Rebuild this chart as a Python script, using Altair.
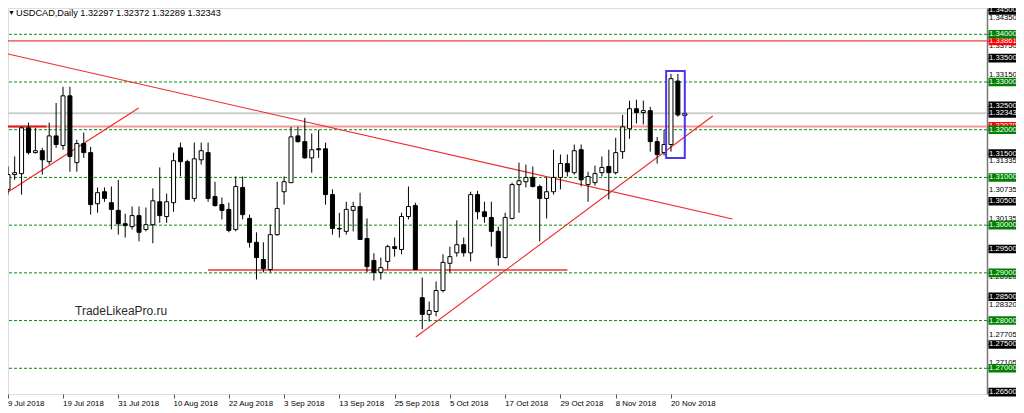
import altair as alt
import pandas as pd

# ---------------- data ----------------
OPEN = [1.3075, 1.3106, 1.3108, 1.3204, 1.3152, 1.3156, 1.3133, 1.3187, 1.3167, 1.3271,
        1.3131, 1.3171, 1.3152, 1.3045, 1.3070, 1.3047, 1.3031, 1.3003, 1.2997, 1.3020,
        1.2991, 1.3001, 1.3049, 1.3018, 1.3047, 1.3162, 1.3133, 1.3056, 1.3137, 1.3152,
        1.3060, 1.3043, 1.3033, 1.2991, 1.3079, 1.3014, 1.2964, 1.2928, 1.2907, 1.2980,
        1.3070, 1.3089, 1.3187, 1.3175, 1.3141, 1.3160, 1.3160, 1.3064, 1.2993, 1.2987,
        1.3031, 1.3039, 1.2972, 1.2926, 1.2901, 1.2924, 1.2955, 1.2949, 1.3018, 1.3041,
        1.2848, 1.2813, 1.2819, 1.2863, 1.2920, 1.2942, 1.2959, 1.2942, 1.3064, 1.3028,
        1.3016, 1.2987, 1.2932, 1.3014, 1.3085, 1.3091, 1.3100, 1.3081, 1.3056, 1.3070,
        1.3100, 1.3129, 1.3110, 1.3158, 1.3085, 1.3089, 1.3110, 1.3123, 1.3110, 1.3154,
        1.3202, 1.3244, 1.3236, 1.3240, 1.3175, 1.3152, 1.3169, 1.3302, 1.32297]
HIGH = [1.3123, 1.3144, 1.3206, 1.3215, 1.3204, 1.3162, 1.3215, 1.3256, 1.3290, 1.3290,
        1.3179, 1.3194, 1.3164, 1.3079, 1.3079, 1.3081, 1.3095, 1.3024, 1.3039, 1.3039,
        1.3037, 1.3077, 1.3121, 1.3066, 1.3152, 1.3173, 1.3137, 1.3173, 1.3173, 1.3173,
        1.3091, 1.3058, 1.3047, 1.3102, 1.3102, 1.3022, 1.2985, 1.2964, 1.3001, 1.3091,
        1.3102, 1.3206, 1.3206, 1.3225, 1.3192, 1.3200, 1.3173, 1.3075, 1.3026, 1.3049,
        1.3049, 1.3068, 1.3014, 1.2941, 1.2932, 1.2959, 1.2974, 1.3026, 1.3081, 1.3047,
        1.2890, 1.2840, 1.2882, 1.2939, 1.2955, 1.3010, 1.2974, 1.3070, 1.3072, 1.3049,
        1.3049, 1.2997, 1.3026, 1.3089, 1.3131, 1.3127, 1.3123, 1.3085, 1.3100, 1.3158,
        1.3148, 1.3148, 1.3169, 1.3169, 1.3112, 1.3125, 1.3144, 1.3158, 1.3183, 1.3231,
        1.3261, 1.3263, 1.3261, 1.3248, 1.3185, 1.3200, 1.3317, 1.3317, 1.32372]
LOW = [1.3064, 1.3095, 1.3064, 1.3148, 1.3150, 1.3106, 1.3127, 1.3162, 1.3158, 1.3112,
       1.3112, 1.3141, 1.3022, 1.3026, 1.3049, 1.2991, 1.2980, 1.2974, 1.2991, 1.2966,
       1.2987, 1.2962, 1.3005, 1.3005, 1.3028, 1.3102, 1.3054, 1.3049, 1.3127, 1.3049,
       1.3039, 1.3012, 1.2985, 1.2987, 1.3012, 1.2953, 1.2886, 1.2901, 1.2901, 1.2978,
       1.3043, 1.3089, 1.3173, 1.3139, 1.3110, 1.3141, 1.3043, 1.2980, 1.2974, 1.2980,
       1.2987, 1.2970, 1.2901, 1.2884, 1.2886, 1.2907, 1.2934, 1.2939, 1.3012, 1.2907,
       1.2782, 1.2798, 1.2809, 1.2859, 1.2901, 1.2934, 1.2934, 1.2924, 1.3012, 1.3005,
       1.2955, 1.2915, 1.2930, 1.3012, 1.3026, 1.3079, 1.3079, 1.2966, 1.3014, 1.3064,
       1.3075, 1.3102, 1.3106, 1.3081, 1.3049, 1.3083, 1.3102, 1.3054, 1.3106, 1.3139,
       1.3181, 1.3213, 1.3211, 1.3154, 1.3129, 1.3146, 1.3154, 1.3227, 1.32289]
CLOSE = [1.3106, 1.3110, 1.3204, 1.3152, 1.3156, 1.3137, 1.3187, 1.3169, 1.3271, 1.3144,
         1.3171, 1.3152, 1.3043, 1.3068, 1.3056, 1.3033, 1.3003, 1.2999, 1.3020, 1.2985,
         1.3001, 1.3051, 1.3020, 1.3049, 1.3135, 1.3133, 1.3054, 1.3139, 1.3156, 1.3056,
         1.3041, 1.3031, 1.2989, 1.3081, 1.3022, 1.2964, 1.2932, 1.2909, 1.2980, 1.3035,
         1.3091, 1.3185, 1.3175, 1.3141, 1.3158, 1.3158, 1.3064, 1.2993, 1.2992, 1.3033,
         1.3039, 1.2970, 1.2913, 1.2901, 1.2911, 1.2955, 1.2951, 1.3018, 1.3039, 1.2907,
         1.2813, 1.2821, 1.2863, 1.2922, 1.2934, 1.2959, 1.2942, 1.3064, 1.3028, 1.3018,
         1.2987, 1.2932, 1.3016, 1.3085, 1.3093, 1.3100, 1.3081, 1.3056, 1.3070, 1.3100,
         1.3129, 1.3112, 1.3156, 1.3095, 1.3102, 1.3108, 1.3121, 1.3110, 1.3152, 1.3206,
         1.3244, 1.3236, 1.3240, 1.3175, 1.3148, 1.3169, 1.3307, 1.3231, 1.32343]

DATE_IDX = [0, 8, 16, 24, 32, 40, 48, 56, 64, 72, 80, 88, 96]
DATE_TXT = ["9 Jul 2018", "19 Jul 2018", "31 Jul 2018", "10 Aug 2018", "22 Aug 2018",
            "3 Sep 2018", "13 Sep 2018", "25 Sep 2018", "5 Oct 2018", "17 Oct 2018",
            "29 Oct 2018", "8 Nov 2018", "20 Nov 2018"]

GRID_LEVELS = [1.34, 1.33, 1.32, 1.31, 1.30, 1.29, 1.28, 1.27]
BLACK_LABELS = [1.345, 1.335, 1.325, 1.32343, 1.315, 1.305, 1.295, 1.285, 1.275, 1.265]
RED_LABELS = [1.33861, 1.3207]
PLAIN_LABELS = [1.3435, 1.3375, 1.3315, 1.31335, 1.30735, 1.30135, 1.2892, 1.2832,
                1.27705, 1.27105]

TOP_RED_LEVEL = 1.33861
RED_LEVEL = 1.3207
BID_LEVEL = 1.32343

DESC_X = [-0.1, 104.9]
DESC_Y = [1.33587, 1.30129]
ASC1_X = [-0.1, 18.95]
ASC1_Y = [1.30695, 1.32455]
ASC2_X = [59.07, 102.05]
ASC2_Y = [1.27656, 1.32288]
SUPPORT_X = [29.0, 81.0]
SUPPORT_Y = 1.2906
RED_SEG_X = [-0.1, 5.6]
RECT_X = [95.3, 98.0]
RECT_Y = [1.31407, 1.33231]

TITLE = "USDCAD,Daily  1.32297 1.32372 1.32289 1.32343"
WATERMARK = "TradeLikeaPro.ru"

# ---------------- layout ----------------
W, H = 979, 386
X_DOM = [0.76, 141.02]
Y_DOM = [1.26461, 1.34551]
PPX = (Y_DOM[1] - Y_DOM[0]) / H  # price per pixel
FONT = "Liberation Sans"

xs = alt.Scale(domain=X_DOM, clamp=True, nice=False, zero=False)
ys = alt.Scale(domain=Y_DOM, nice=False, zero=False)
x_axis = alt.Axis(values=DATE_IDX, labels=False, ticks=True, tickSize=4, tickColor="#555",
                  domain=False, grid=False, title=None, orient="bottom")
y_axis = alt.Axis(values=BLACK_LABELS + GRID_LEVELS + RED_LABELS, labels=False, ticks=True,
                  tickSize=2, tickColor="#555", domain=True, domainColor="#777",
                  domainWidth=1.5, grid=False, title=None, orient="right")


def X(f):
    return alt.X(f, type="quantitative", scale=xs, axis=x_axis)


def Y(f):
    return alt.Y(f, type="quantitative", scale=ys, axis=y_axis)


n = len(OPEN)
candles = pd.DataFrame({"i": list(range(n)), "o": OPEN, "h": HIGH, "l": LOW, "c": CLOSE})
candles["dir"] = ["up" if c >= o else "down" for o, c in zip(OPEN, CLOSE)]

grid = alt.Chart(pd.DataFrame({"p": GRID_LEVELS})).mark_rule(
    color="#0a8a0a", strokeDash=[3, 2], strokeWidth=1).encode(y=Y("p"))

bid = alt.Chart(pd.DataFrame({"p": [BID_LEVEL]})).mark_rule(
    color="#cfcfcf", strokeWidth=2).encode(y=Y("p"))
top_red = alt.Chart(pd.DataFrame({"p": [TOP_RED_LEVEL]})).mark_rule(
    color="#e81010", strokeWidth=1).encode(y=Y("p"))
red_lvl = alt.Chart(pd.DataFrame({"p": [RED_LEVEL]})).mark_rule(
    color="#f39a9a", strokeWidth=2).encode(y=Y("p"))
red_seg = alt.Chart(pd.DataFrame({"i": [RED_SEG_X[0]], "i2": [RED_SEG_X[1]], "p": [RED_LEVEL]})).mark_rule(
    color="#e02020", strokeWidth=2, clip=True).encode(x=X("i"), x2="i2:Q", y=Y("p"))


def seg(xv, yv, color, width):
    df = pd.DataFrame({"i": [xv[0]], "i2": [xv[1]], "p": [yv[0]], "p2": [yv[1]]})
    return alt.Chart(df).mark_rule(color=color, strokeWidth=width, clip=True).encode(
        x=X("i"), x2="i2:Q", y=Y("p"), y2="p2:Q")


desc = seg(DESC_X, DESC_Y, "#f02828", 1.1)
asc1 = seg(ASC1_X, ASC1_Y, "#f02828", 1.1)
asc2 = seg(ASC2_X, ASC2_Y, "#f02828", 1.1)
support = seg(SUPPORT_X, [SUPPORT_Y, SUPPORT_Y], "#f03030", 1.5)

wicks = alt.Chart(candles).mark_rule(color="black", strokeWidth=1, clip=True).encode(
    x=X("i"), y=Y("l"), y2="h:Q")
bodies = alt.Chart(candles).mark_bar(size=4, stroke="black", strokeWidth=1, clip=True).encode(
    x=X("i"), y=Y("o"), y2="c:Q",
    color=alt.Color("dir:N", scale=alt.Scale(domain=["up", "down"], range=["white", "black"]),
                    legend=None))

rect = alt.Chart(pd.DataFrame({"i": [RECT_X[0]], "i2": [RECT_X[1]],
                               "p": [RECT_Y[0]], "p2": [RECT_Y[1]]})).mark_rect(
    fill=None, stroke="#4a36ee", strokeWidth=2, clip=True).encode(
    x=X("i"), x2="i2:Q", y=Y("p"), y2="p2:Q")

# right price scale labels
LAB_X = W + 1.5
TXT_X = W + 2
LAB_FS = 7.7


def boxes(levels, color):
    df = pd.DataFrame({"p": levels})
    df["lo"] = df["p"] - 4.3 * PPX
    df["hi"] = df["p"] + 4.3 * PPX
    box = alt.Chart(df).mark_rect(color=color).encode(
        x=alt.value(LAB_X), x2=alt.value(LAB_X + 50), y=Y("lo"), y2="hi:Q")
    txt = alt.Chart(df).mark_text(align="left", baseline="middle", font=FONT,
                                  fontSize=LAB_FS, color="white").encode(
        x=alt.value(TXT_X), y=Y("p"), text=alt.Text("p:Q", format=".5f"))
    return [box, txt]


plain = alt.Chart(pd.DataFrame({"p": PLAIN_LABELS})).mark_text(
    align="left", baseline="middle", font=FONT, fontSize=LAB_FS, color="black").encode(
    x=alt.value(TXT_X), y=Y("p"), text=alt.Text("p:Q", format=".5f"))

dates = alt.Chart(pd.DataFrame({"i": DATE_IDX, "t": DATE_TXT})).mark_text(
    align="left", baseline="middle", font=FONT, fontSize=7.9, color="black").encode(
    x=X("i"), y=alt.value(H + 10), text="t:N")

title_tri = alt.Chart(pd.DataFrame({"t": ["\u25bc"]})).mark_text(
    align="left", baseline="middle", fontSize=7, color="black").encode(
    x=alt.value(0), y=alt.value(5), text="t:N")
title = alt.Chart(pd.DataFrame({"t": [TITLE]})).mark_text(
    align="left", baseline="middle", font=FONT, fontSize=9.2, color="black").encode(
    x=alt.value(8), y=alt.value(5), text="t:N")
watermark = alt.Chart(pd.DataFrame({"t": [WATERMARK]})).mark_text(
    align="left", baseline="middle", font=FONT, fontSize=12, color="#2a2a2a").encode(
    x=alt.value(67), y=alt.value(303), text="t:N")

layers = [grid, bid, top_red, red_lvl, red_seg, desc, asc1, asc2, support,
          wicks, bodies, rect, plain]
layers += boxes(BLACK_LABELS, "black")
layers += boxes(RED_LABELS, "#ff0000")
layers += boxes(GRID_LEVELS, "#008000")
layers += [dates, title_tri, title, watermark]

chart = alt.layer(*layers).properties(
    width=W, height=H,
    autosize=alt.AutoSizeParams(type="none"),
    padding={"left": 0, "top": 0, "right": 29, "bottom": 19},
).configure_view(stroke="#8a8a8a", strokeWidth=1).configure(background="white")

chart.save("out.html", embed_options={"renderer": "svg", "actions": False})
